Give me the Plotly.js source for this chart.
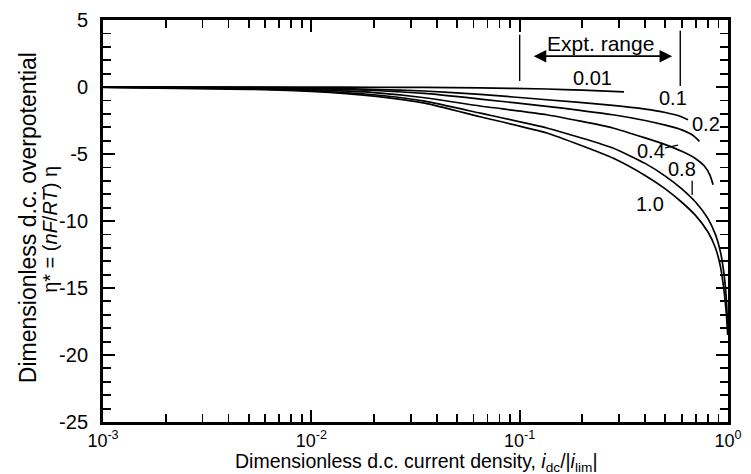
<!DOCTYPE html>
<html>
<head>
<meta charset="utf-8">
<script src="https://cdn.plot.ly/plotly-3.0.1.min.js"></script>
<style>html,body{margin:0;padding:0;background:#fff;}#chart{width:751px;height:474px;}</style>
</head>
<body>
<div id="chart"></div>
<script>
// Curve labels (parameter values)
const curveLabels = ['0.01', '0.1', '0.2', '0.4', '0.8', '1.0'];

// Dimensionless current density (x) and overpotential (y) for each curve
const x_001 = [0.001, 0.005, 0.01, 0.02, 0.035, 0.0646, 0.135, 0.2, 0.317];
const y_001 = [0, 0, -0.01, -0.02, -0.035, -0.07, -0.15, -0.24, -0.37];

const x_01 = [0.001, 0.005, 0.01, 0.02, 0.035, 0.0646, 0.135, 0.28, 0.4, 0.5, 0.58, 0.643];
const y_01 = [0, -0.03, -0.08, -0.17, -0.3, -0.55, -0.95, -1.37, -1.65, -1.9, -2.15, -2.44];

const x_02 = [0.001, 0.005, 0.01, 0.02, 0.035, 0.0646, 0.135, 0.28, 0.4, 0.5, 0.6, 0.67, 0.73];
const y_02 = [0, -0.05, -0.12, -0.26, -0.48, -0.9, -1.44, -2.07, -2.5, -2.85, -3.2, -3.55, -4.05];

const x_04 = [0.001, 0.005, 0.01, 0.02, 0.035, 0.0646, 0.135, 0.28, 0.4, 0.5, 0.6, 0.7, 0.77, 0.82, 0.848];
const y_04 = [-0.01, -0.08, -0.2, -0.42, -0.8, -1.42, -2.07, -3.06, -3.8, -4.3, -4.8, -5.35, -5.9, -6.6, -7.3];

const x_08 = [0.001, 0.005, 0.01, 0.02, 0.035, 0.0646, 0.135, 0.28, 0.4, 0.5, 0.6, 0.7, 0.8, 0.87, 0.92, 0.95, 0.97, 0.985, 0.997];
const y_08 = [-0.02, -0.12, -0.28, -0.58, -1.05, -1.95, -3.06, -4.55, -5.7, -6.65, -7.6, -8.6, -9.8, -11.0, -12.3, -13.6, -14.8, -16.2, -18.0];

const x_10 = [0.001, 0.005, 0.01, 0.02, 0.035, 0.0646, 0.135, 0.28, 0.4, 0.5, 0.6, 0.7, 0.8, 0.87, 0.92, 0.95, 0.97, 0.985, 0.997];
const y_10 = [-0.03, -0.17, -0.33, -0.68, -1.2, -2.22, -3.43, -5.3, -6.6, -7.6, -8.6, -9.6, -10.8, -12.0, -13.4, -14.8, -16.0, -17.2, -18.5];

// Tick labels
const xTickVals = [0.001, 0.01, 0.1, 1];
const xTickText = ['10<sup>-3</sup>', '10<sup>-2</sup>', '10<sup>-1</sup>', '10<sup>0</sup>'];
const yTickVals = [5, 0, -5, -10, -15, -20, -25];
const yTickText = ['5', '0', '-5', '-10', '-15', '-20', '-25'];

// Axis titles
const xTitle = 'Dimensionless d.c. current density, <i>i</i><sub>dc</sub>/|<i>i</i><sub>lim</sub>|';
const yTitle1 = 'Dimensionless d.c. overpotential';
const yTitle2 = 'η* = (<i>nF</i>/<i>RT</i>) η';

// Experimental range bounds
const exptRange = [0.1, 0.59];

const xs = [x_001, x_01, x_02, x_04, x_08, x_10];
const ys = [y_001, y_01, y_02, y_04, y_08, y_10];

const traces = xs.map((xv, i) => ({
  x: xv, y: ys[i], type: 'scatter', mode: 'lines', name: curveLabels[i],
  line: {color: '#000', width: 1.7, shape: 'spline', smoothing: 0.5},
  showlegend: false, hoverinfo: 'skip'
}));

const minorX = [];
xTickVals.slice(0, 3).forEach(d => { for (let k = 2; k <= 9; k++) minorX.push(d * k); });
const minorY = [];
for (let v = -25; v <= 5; v++) if (v % 5 !== 0) minorY.push(v);

const fam = 'Liberation Sans, Arial, Helvetica, sans-serif';
const F = (s) => ({family: fam, size: s, color: '#000'});
const lbl = (t, lx, y) => ({x: lx, y: y, xref: 'x', yref: 'y', text: t, showarrow: false, font: F(20)});

const layout = {
  width: 751, height: 474,
  margin: {l: 103, r: 23, t: 20, b: 52},
  paper_bgcolor: '#fff', plot_bgcolor: '#fff',
  font: F(20),
  xaxis: {
    type: 'log', range: [-3, 0], showgrid: false, zeroline: false,
    showline: true, linecolor: '#000', linewidth: 3, mirror: 'allticks',
    ticks: 'inside', ticklen: 12, tickwidth: 2, tickcolor: '#000',
    tickmode: 'array', tickvals: xTickVals, ticktext: xTickText,
    tickfont: F(18),
    minor: {ticks: 'inside', ticklen: 8, tickwidth: 1.8, tickcolor: '#000', tickmode: 'array', tickvals: minorX, showgrid: false}
  },
  yaxis: {
    range: [-25, 5], showgrid: false, zeroline: false,
    showline: true, linecolor: '#000', linewidth: 3, mirror: 'allticks',
    ticks: 'inside', ticklen: 12, tickwidth: 2, tickcolor: '#000',
    tickmode: 'array', tickvals: yTickVals, ticktext: yTickText,
    tickfont: F(20), ticklabelstandoff: 8,
    minor: {ticks: 'inside', ticklen: 8, tickwidth: 1.8, tickcolor: '#000', tickmode: 'array', tickvals: minorY, showgrid: false}
  },
  shapes: [
    {type: 'line', xref: 'x', yref: 'y', x0: exptRange[0], x1: exptRange[0], y0: 3.9, y1: 0.45, line: {color: '#000', width: 1.4}},
    {type: 'line', xref: 'x', yref: 'y', x0: exptRange[1], x1: exptRange[1], y0: 4.2, y1: 0.07, line: {color: '#000', width: 1.4}},
    {type: 'line', xref: 'x', yref: 'y', x0: 0.499, x1: 0.575, y0: -4.55, y1: -4.33, line: {color: '#000', width: 1.3}},
    {type: 'line', xref: 'x', yref: 'y', x0: 0.673, x1: 0.673, y0: -7.0, y1: -8.06, line: {color: '#000', width: 1.3}}
  ],
  annotations: [
    {x: -0.268, y: 2.3, ax: -0.94, ay: 2.3, xref: 'x', yref: 'y', axref: 'x', ayref: 'y', text: '',
      showarrow: true, arrowhead: 2, arrowside: 'end+start', arrowsize: 1.4, arrowwidth: 1.8, arrowcolor: '#000'},
    {x: -0.614, y: 3.25, xref: 'x', yref: 'y', text: 'Expt. range', showarrow: false, font: F(21)},
    lbl(curveLabels[0], -0.652, 0.67),
    lbl(curveLabels[1], -0.264, -0.82),
    lbl(curveLabels[2], -0.105, -2.76),
    lbl(curveLabels[3], -0.369, -4.78),
    lbl(curveLabels[4], -0.220, -6.12),
    lbl(curveLabels[5], -0.374, -8.73),
    {x: 0.5, y: -0.1, xref: 'paper', yref: 'paper', xanchor: 'center', yanchor: 'middle',
      text: xTitle, showarrow: false, font: F(19.5)},
    {x: -0.12, y: 0.507, xref: 'paper', yref: 'paper', xanchor: 'center', yanchor: 'middle', textangle: -90,
      text: yTitle1, showarrow: false, font: F(23)},
    {x: -0.0848, y: 0.478, xref: 'paper', yref: 'paper', xanchor: 'center', yanchor: 'middle', textangle: -90,
      text: yTitle2, showarrow: false, font: F(20)}
  ]
};

Plotly.newPlot('chart', traces, layout, {staticPlot: true, displayModeBar: false});
</script>
</body>
</html>
